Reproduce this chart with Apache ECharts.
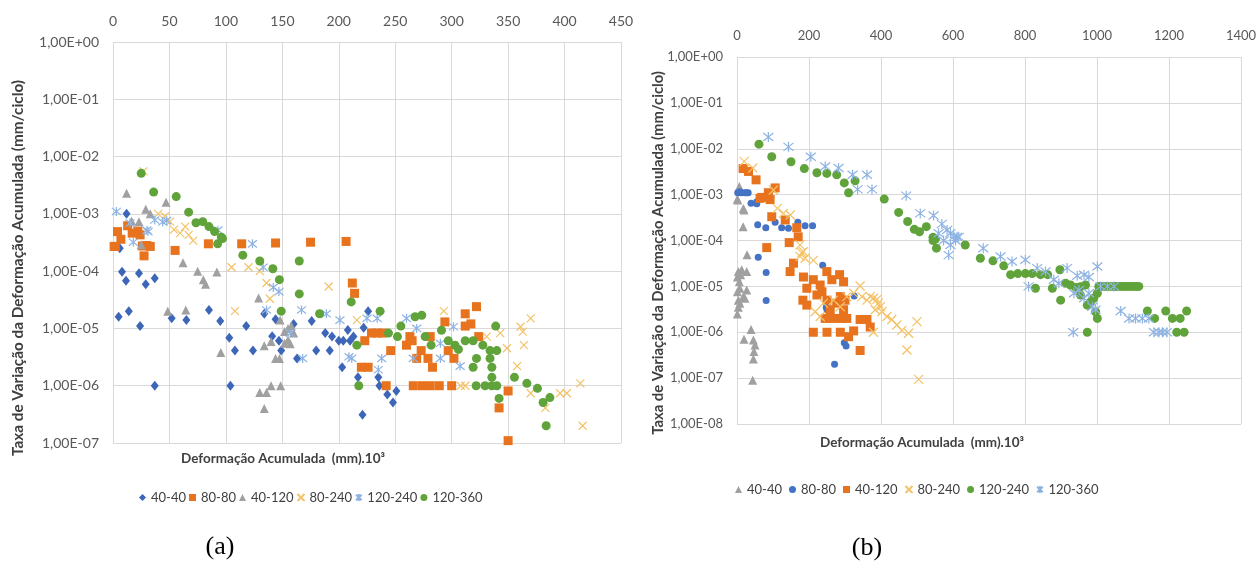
<!DOCTYPE html>
<html>
<head>
<meta charset="utf-8">
<script src="https://cdn.jsdelivr.net/npm/echarts@6/dist/echarts.min.js"></script>
<style>
  html, body { margin: 0; padding: 0; background: #fff; }
  #wrap { position: relative; width: 1256px; height: 564px; }
  #chartA { position: absolute; left: 0; top: 0; width: 660px; height: 564px; }
  #chartB { position: absolute; left: 628px; top: 0; width: 628px; height: 564px; }
</style>
</head>
<body>
<div id="wrap"><div id="chartA"></div><div id="chartB"></div></div>
<script>
// ---- chart (a) data: [deformação acumulada, taxa] ----
var a_names = ['40-40', '80-80', '40-120', '80-240', '120-240', '120-360'];
var a_4040 = [[12,1e-3],[6,2.5e-4],[8,9.8e-5],[11.5,6.8e-5],[23,9.2e-5],[29,5.9e-5],[37,7.5e-5],[5,1.6e-5],[14,2e-5],[24,1.1e-5],[37,1e-6],[52,1.5e-5],[65,1.4e-5],[85,2.1e-5],[95,1.35e-5],[103,6.9e-6],[104,1e-6],[108,4.1e-6],[118,1.1e-5],[124,4.1e-6],[134,1.8e-5],[141,7.3e-6],[144,1.45e-5],[147,6.1e-6],[149,4.1e-6],[160,1.2e-5],[163,3e-6],[176,1.35e-5],[180,4.1e-6],[188,8.3e-6],[192,4.1e-6],[194,7.2e-6],[200,6.1e-6],[204,6.1e-6],[208,9.4e-6],[210,6.1e-6],[213,7.2e-6],[222,1.03e-5],[226,2e-5],[203,2.1e-6],[217,1.4e-6],[235,1.4e-6],[236,1e-6],[243,7e-7],[248,5.1e-7],[251,8.1e-7],[221,3.1e-7]];
var a_8080 = [[1,2.7e-4],[4,4.9e-4],[7,3.6e-4],[2,2.7e-4],[13,6.2e-4],[17,4.6e-4],[22,5e-4],[24,4.3e-4],[26,2.75e-4],[30,2.8e-4],[33,2.7e-4],[27.5,1.85e-4],[55,2.3e-4],[84.5,3e-4],[114,3e-4],[144,3.1e-4],[175,3.2e-4],[206.5,3.3e-4],[212,6.2e-5],[214,4.1e-5],[229,8.3e-6],[234,8.3e-6],[239,8.3e-6],[223,6.1e-6],[220,2.1e-6],[226,2.1e-6],[246,4.1e-6],[242,1e-6],[263,7.2e-6],[265,6.1e-6],[260,5.1e-6],[269,3e-6],[279,3e-6],[273,4.1e-6],[281,7.2e-6],[283,2.1e-6],[266,1e-6],[274,1e-6],[281,1e-6],[289,1e-6],[294,1.3e-5],[297,4.1e-6],[302,3e-6],[300,1e-6],[312,1.8e-5],[312,1.1e-5],[317,1.2e-5],[322,2.4e-5],[324,7.2e-6],[350,8.1e-7],[342,4.1e-7],[350,1.1e-7]];
var a_40120 = [[12,2.3e-3],[29,1.2e-3],[33,1e-3],[47,1.6e-3],[16.5,7.5e-4],[23,7.3e-4],[25,2.9e-4],[62,1.4e-4],[75,1e-4],[80,7.1e-5],[82,5.9e-5],[92,9.7e-5],[48.5,2e-5],[64.5,2.1e-5],[95.5,3.8e-6],[129,3.4e-5],[134,5e-6],[140,5.9e-6],[144,3e-6],[147.5,3e-6],[130,7.6e-7],[136,7.6e-7],[140,1e-6],[148.5,1e-6],[134,4e-7],[152,8.8e-6],[155,1e-5],[158,1.1e-5],[160,8.3e-6],[152,5.5e-6],[157,5.4e-6],[155,6.3e-6],[148,1.4e-5]];
var a_80240 = [[27,5.5e-3],[40,1e-3],[46,9e-4],[50.5,7.3e-4],[54,5.3e-4],[59.5,4.6e-4],[64,6e-4],[67,4.3e-4],[71,3.4e-4],[105,1.17e-4],[120,1.17e-4],[130,1e-4],[136,6.2e-5],[139,3.3e-5],[108,2e-5],[191,5.4e-5],[216,1.4e-5],[293,2e-5],[308,1e-6],[312,1e-6],[331,7.2e-6],[343,8.3e-6],[349,4.5e-6],[358,2.2e-6],[361,1.07e-5],[363,8.8e-6],[364,5.1e-6],[370,1.5e-5],[370,7.4e-7],[383,4.1e-7],[396,7.4e-7],[402,7.4e-7],[414,1.1e-6],[416,2e-7]];
var a_120240 = [[3,1.1e-3],[15,6.9e-4],[18,3.2e-4],[30,5.2e-4],[31,4.9e-4],[37,7.8e-4],[44,7.2e-4],[47.6,7.6e-4],[93,5.2e-4],[123.5,3e-4],[133,1.17e-4],[142,5.2e-5],[147,4.4e-5],[136,2.1e-5],[167,2.1e-5],[168,3e-6],[157,8.3e-6],[189,1.8e-5],[201,1.4e-5],[225,1.5e-5],[234,1.5e-5],[211.5,3e-6],[209,3.2e-6],[235,1.9e-6],[238,3e-6],[260,1.5e-5],[269,1e-5],[266,3e-6],[290,3e-6],[290,5.5e-6],[301.6,1.07e-5],[307.5,2.2e-6]];
var a_120360 = [[25,5.1e-3],[36,2.4e-3],[56,2e-3],[67,1.07e-3],[73.5,7e-4],[79.5,7.3e-4],[85,6e-4],[90,4.9e-4],[96,3.9e-4],[92.7,3e-4],[97,3.7e-4],[115,1.9e-4],[130,1.5e-4],[141.6,1.1e-4],[147.4,7.1e-5],[165,1.5e-4],[165,4e-5],[149,2e-5],[183,1.8e-5],[211,2.9e-5],[236.6,2e-5],[216,5.1e-6],[217.7,1e-6],[244,8.3e-6],[252,7.2e-6],[255,1.1e-5],[267.6,1.6e-5],[273.5,1.7e-5],[276.5,7.2e-6],[281.8,5.1e-6],[291,9.3e-6],[297,6.1e-6],[303,5.1e-6],[306,4.3e-6],[312,6.1e-6],[319,6.1e-6],[327.6,5.1e-6],[319,2.1e-6],[322,3e-6],[321.7,1e-6],[329.6,1e-6],[335.6,1e-6],[340,1e-6],[334,4.1e-6],[340,4.1e-6],[334,3e-6],[335.6,2.1e-6],[335.6,1.4e-6],[339,1.1e-5],[342,6e-7],[355.6,1.4e-6],[366.6,1.1e-6],[376,9e-7],[381,5.1e-7],[387,6.2e-7],[383.7,2e-7]];

// ---- chart (b) data ----
var b_names = ['40-40', '80-80', '40-120', '80-240', '120-240', '120-360'];
var b_4040 = [[6.5,1.5e-3],[1,8e-4],[2,7.6e-4],[19.5,4.6e-4],[17.5,5e-4],[17,2e-4],[28,4.9e-5],[3.7,2.1e-5],[13,2.3e-5],[27,2.1e-5],[1,1.6e-5],[10,1.8e-5],[6.5,1.26e-5],[1,7.6e-6],[8,9.1e-6],[27,8.3e-6],[17.5,6e-6],[3.7,5e-6],[8,4.3e-6],[22,5.5e-6],[1,2.5e-6],[3.7,3.5e-6],[39,1.15e-6],[19.5,7e-7],[45.5,6.8e-7],[50,5.3e-7],[47,3.8e-7],[45.5,2.6e-7],[43.6,9e-8]];
var b_8080 = [[2,1.1e-3],[13,1.1e-3],[27,1.1e-3],[8,1.15e-3],[22,1.1e-3],[31,1.1e-3],[39,6.5e-4],[55,6.3e-4],[55,7e-4],[57.5,2.2e-4],[80,1.9e-4],[106,2.5e-4],[124,1.9e-4],[143,1.85e-4],[169,2.5e-4],[189,2.1e-4],[210,2.1e-4],[59,4.3e-5],[81,2e-5],[81,4.9e-6],[238,2.9e-5],[248,3.5e-6],[250,3.1e-6],[325.5,6.2e-6],[298,5.9e-7],[303,5e-7],[271,2e-7]];
var b_40120 = [[17,3.7e-3],[32,3.2e-3],[53,2.1e-3],[64,8.3e-4],[68.7,8.7e-4],[87,1.1e-3],[106,1.4e-3],[92,7.8e-4],[96.5,3.3e-4],[134,2.8e-4],[166,1.9e-4],[170,1.2e-4],[145,9e-5],[82.6,7e-5],[157,3.2e-5],[147.5,2.1e-5],[184.6,1.6e-5],[194,9.1e-6],[212,1.4e-5],[231,1.07e-5],[249.6,2.1e-5],[285,1.8e-5],[296,1.26e-5],[263.5,1.4e-5],[183,5e-6],[194,3.9e-6],[222,6.5e-6],[236,7.6e-6],[250,5e-6],[259,3.1e-6],[277,4.3e-6],[287,6e-6],[300,5e-6],[245,2e-6],[263.5,2e-6],[287,2e-6],[305,2e-6],[212,1e-6],[250,1e-6],[287,1e-6],[310,8e-7],[324,1.07e-6],[342,1.9e-6],[361,1.9e-6],[370,1.3e-6],[342,4e-7],[296,3.1e-6]];
var b_80240 = [[20,5.3e-3],[44,3.8e-3],[101,1.26e-3],[112,5e-4],[148,3.6e-4],[129,3.9e-4],[180,5.4e-5],[175,4.5e-5],[175,8e-5],[184.5,5.7e-5],[189,4.1e-5],[212,3.7e-5],[217,2.8e-6],[231,2.2e-6],[240,4.3e-6],[268,5e-6],[287,3.6e-6],[305,6e-6],[324,7.1e-6],[342,1.02e-5],[347,6e-6],[361,5e-6],[370,6e-6],[379,5.5e-6],[389,5.2e-6],[393,4.3e-6],[398,3.6e-6],[384,3.1e-6],[402.6,2.8e-6],[416.5,2.2e-6],[430,1.9e-6],[444,1.44e-6],[458,1.1e-6],[476.6,9.5e-7],[500,1.7e-6],[472,4.1e-7],[504.6,9.4e-8],[379,1e-6]];
var b_120240 = [[61,1.26e-2],[96.5,6.7e-3],[150,5.2e-3],[187,3.7e-3],[222,3e-3],[249.6,2.9e-3],[277,2.7e-3],[298,1.8e-3],[310,1.1e-3],[328,2e-3],[409,8e-4],[449,4.1e-4],[474,2.6e-4],[492.5,1.75e-4],[507,1.55e-4],[526,2e-4],[544.5,1.17e-4],[551,1.07e-4],[544.5,1e-4],[554,6.8e-5],[634,8e-5],[676,4.1e-5],[711,3.6e-5],[741,2.8e-5],[760,1.8e-5],[780,1.9e-5],[801,1.9e-5],[820,1.9e-5],[843,1.8e-5],[863,1.8e-5],[897,2.3e-5],[829,9.1e-6],[876,9.1e-6],[899,5e-6],[913,1.17e-5],[926.5,1.07e-5],[940.5,9.5e-6],[954,9.8e-6],[968,1.07e-5],[954,6.5e-6],[973,3.9e-6],[996,2.8e-6],[1001,2e-6],[973,1e-6],[1001,7.1e-6],[991,5.5e-6],[982,4.6e-6],[1005,1e-5],[1013,1e-5],[1021,1e-5],[1029,1e-5],[1037,1e-5],[1045,1e-5],[1053,1e-5],[1061,1e-5],[1069,1e-5],[1077,1e-5],[1085,1e-5],[1093,1e-5],[1101,1e-5],[1109,1e-5],[1116,1e-5],[1140,2.9e-6],[1160,2e-6],[1191,2.9e-6],[1209.5,2e-6],[1231,2e-6],[1249,2.9e-6],[1221.5,1e-6],[1242,1e-6]];
var b_120360 = [[87,1.8e-2],[143,1.1e-2],[205,6.7e-3],[245,4.1e-3],[282,3.8e-3],[321,2.7e-3],[361,2.7e-3],[335,1.3e-3],[375,1.3e-3],[470,9.5e-4],[509,3.9e-4],[546,3.5e-4],[569,2.3e-4],[583.5,1.7e-4],[602,1.2e-4],[593,1.44e-4],[611,1.2e-4],[593,8e-5],[588,4.8e-5],[560,1.44e-4],[574,1e-4],[607,1e-4],[616,1.2e-4],[684,6.8e-5],[732,4.5e-5],[764,3.5e-5],[801,3.8e-5],[810,1e-5],[834,2.5e-5],[857,2.1e-5],[880,1.4e-5],[894,1.17e-5],[917,2.5e-5],[945,1.7e-5],[964,1.8e-5],[977.5,1.6e-5],[1001,2.7e-5],[936,7.1e-6],[950,8.3e-6],[964,5.5e-6],[977.5,7.1e-6],[934,1e-6],[987,3.6e-6],[996,3.1e-6],[1010,1e-5],[1029,1e-5],[1047,1e-5],[1066,2.9e-6],[1089,2e-6],[1107,2e-6],[1126,2e-6],[1144,2e-6],[1158,1e-6],[1172,1e-6],[1182,1e-6],[1194,1e-6]];

var FONT = 'Lato';
var CROSS = 'path://M0,0L10,10M10,0L0,10';
var STAR = 'path://M5,0L5,10M1,1L9,9M9,1L1,9';

function yLabel(v) {
  var e = Math.round(Math.log10(v));
  var s = String(Math.abs(e));
  if (s.length < 2) s = '0' + s;
  return '1,00E' + (e < 0 ? '-' : '+') + s;
}

// filled marker series
function dots(name, data, symbol, size, color) {
  return {
    name: name, type: 'scatter', data: data, symbol: symbol, symbolSize: size,
    clip: false, itemStyle: { color: color, opacity: 1 }
  };
}
// stroke only marker series (x and asterisk)
function lines(name, data, symbol, size, color) {
  return {
    name: name, type: 'scatter', data: data, symbol: symbol, symbolSize: size,
    clip: false, itemStyle: { color: 'rgba(0,0,0,0)', borderColor: color, borderWidth: 1.2, opacity: 1 }
  };
}

function baseOption(cfg) {
  return {
    animation: false,
    grid: { left: cfg.grid[0], top: cfg.grid[1], width: cfg.grid[2], height: cfg.grid[3], outerBoundsMode: 'none' },
    xAxis: {
      type: 'value', position: 'top', min: 0, max: cfg.xmax, interval: cfg.xstep,
      axisLine: { show: false }, axisTick: { show: false },
      axisLabel: { color: '#595959', fontFamily: FONT, fontSize: cfg.fs, margin: cfg.xm,
        formatter: function (v) { return String(v); } },
      splitLine: { show: true, lineStyle: { color: '#d9d9d9', width: 1 } }
    },
    yAxis: {
      type: 'log', logBase: 10, min: cfg.ymin, max: 1,
      axisLine: { show: false }, axisTick: { show: false },
      axisLabel: { color: '#595959', fontFamily: FONT, fontSize: cfg.fs, margin: cfg.ym, formatter: yLabel },
      splitLine: { show: true, lineStyle: { color: '#d9d9d9', width: 1 } }
    },
    legend: {
      left: cfg.leg[0], top: cfg.leg[1], itemWidth: 7, itemHeight: 7, itemGap: cfg.leg[2],
      textStyle: { color: '#404040', fontFamily: FONT, fontSize: 13 },
      data: cfg.names
    },
    graphic: [
      { type: 'text', x: cfg.ytitle[0], y: cfg.ytitle[1], rotation: Math.PI / 2,
        style: { text: 'Taxa de Variação da Deformação Acumulada (mm/ciclo)', fill: '#404040',
          font: 'bold ' + cfg.yfs + 'px ' + FONT, textAlign: 'center', textVerticalAlign: 'middle' } },
      { type: 'text', x: cfg.xtitle[0], y: cfg.xtitle[1],
        style: { text: 'Deformação Acumulada  (mm).10³', fill: '#404040',
          font: 'bold ' + cfg.xfs + 'px ' + FONT, textAlign: 'center', textVerticalAlign: 'middle' } },
      { type: 'text', x: cfg.cap[0], y: cfg.cap[1],
        style: { text: cfg.capText, fill: '#000', font: '26px "Liberation Serif"',
          textAlign: 'center', textVerticalAlign: 'middle' } }
    ],
    series: cfg.series
  };
}

var chartA = echarts.init(document.getElementById('chartA'));
chartA.setOption(baseOption({
  grid: [113, 42, 508, 401], xmax: 450, xstep: 50, ymin: 1e-7, fs: 14, xm: 14, ym: 14, yfs: 15.3, xfs: 13.5,
  leg: [134, 486, 3], names: a_names, ytitle: [18, 268], xtitle: [283, 459], cap: [220, 547], capText: '(a)',
  series: [
    dots(a_names[0], a_4040, 'diamond', [8, 10], '#3d66b8'),
    dots(a_names[1], a_8080, 'rect', 9, '#e8731e'),
    dots(a_names[2], a_40120, 'triangle', 9, '#a0a0a0'),
    lines(a_names[3], a_80240, CROSS, 8, '#f4c266'),
    lines(a_names[4], a_120240, STAR, 9, '#8db3e2'),
    dots(a_names[5], a_120360, 'circle', 9, '#5fa33a')
  ]
}));

var chartB = echarts.init(document.getElementById('chartB'));
chartB.setOption(baseOption({
  grid: [109, 57, 504, 367], xmax: 1400, xstep: 200, ymin: 1e-8, fs: 13, xm: 15, ym: 14, yfs: 14.8, xfs: 13.5,
  leg: [102, 478, 7], names: b_names, ytitle: [30, 253], xtitle: [294, 443], cap: [239, 548], capText: '(b)',
  series: [
    dots(b_names[0], b_4040, 'triangle', 9, '#a0a0a0'),
    dots(b_names[1], b_8080, 'circle', 7, '#4472c4'),
    dots(b_names[2], b_40120, 'rect', 9, '#e8731e'),
    lines(b_names[3], b_80240, CROSS, 9, '#f4c266'),
    dots(b_names[4], b_120240, 'circle', 9, '#5fa33a'),
    lines(b_names[5], b_120360, STAR, 10, '#8db3e2')
  ]
}));
</script>
</body>
</html>
